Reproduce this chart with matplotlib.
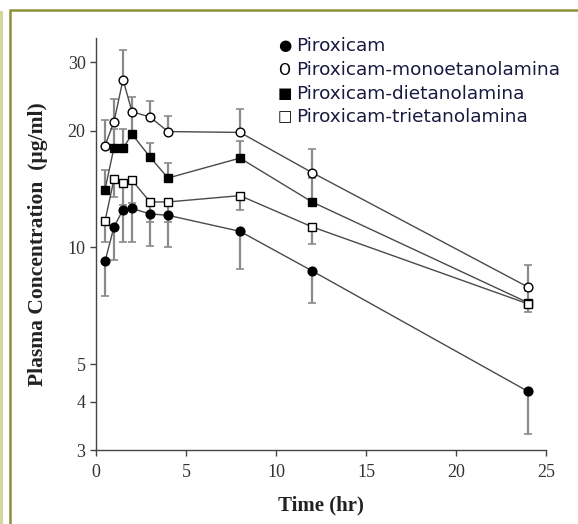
import matplotlib.pyplot as plt
from matplotlib.patches import Rectangle
from matplotlib.ticker import FixedLocator, NullLocator

# data (ug/ml); one-sided SD bars as in the original
time_hr = [0.5, 1, 1.5, 2, 3, 4, 8, 12, 24]
piroxicam = [9.2, 11.3, 12.5, 12.6, 12.2, 12.1, 11.0, 8.7, 4.25]
piroxicam_err = [1.7, 2.0, 2.2, 2.3, 2.1, 2.1, 2.2, 1.5, 0.95]
mono = [18.3, 21.1, 27.1, 22.4, 21.7, 19.9, 19.8, 15.6, 7.9]
mono_err = [3.0, 3.1, 5.2, 2.0, 2.2, 1.9, 2.9, 2.3, 1.1]
di = [14.1, 18.1, 18.0, 19.6, 17.1, 15.1, 17.0, 13.1, 7.2]
di_err = [1.7, 2.1, 2.2, 2.5, 1.5, 1.4, 1.8, 2.0, 0.5]
tri = [11.7, 15.0, 14.7, 14.9, 13.1, 13.1, 13.6, 11.3, 7.15]
tri_err = [1.4, 1.5, 1.8, 1.9, 1.5, 1.5, 1.1, 1.1, 0.35]

legend_labels = ['Piroxicam', 'Piroxicam-monoetanolamina',
                 'Piroxicam-dietanolamina', 'Piroxicam-trietanolamina']
legend_symbols = ['\u25cf', 'O', '\u25a0', '\u25a1']
y_ticks = [3, 4, 5, 10, 20, 30]
x_ticks = [0, 5, 10, 15, 20, 25]

fig = plt.figure(figsize=(5.78, 5.24), dpi=100)

# decorative frame around the slide
fig.add_artist(Rectangle((0.0, 0.0), 0.005, 0.979, transform=fig.transFigure,
                         facecolor='#d6d69c', edgecolor='none'))
fig.add_artist(Rectangle((0.018, -0.05), 1.1, 1.03, transform=fig.transFigure,
                         facecolor='none', edgecolor='#8e8e3c', linewidth=1.8))

ax = fig.add_axes([0.1661, 0.1412, 0.7785, 0.7863])

line_c = '#4a4a4a'
bar_c = '#8a8a8a'
zeros = [0] * len(time_hr)

series = [
    (piroxicam, [piroxicam_err, zeros], 'o', 'black', 6.3),
    (mono, [zeros, mono_err], 'o', 'white', 6.3),
    (di, [zeros, di_err], 's', 'black', 5.2),
    (tri, [tri_err, zeros], 's', 'white', 5.2),
]
for vals, err, mk, fc, ms in series:
    ax.errorbar(time_hr, vals, yerr=err, fmt='none', ecolor=bar_c,
                elinewidth=1.6, capsize=3, capthick=1.2, zorder=2)
    ax.plot(time_hr, vals, color=line_c, linewidth=1.0, marker=mk,
            markersize=ms, markerfacecolor=fc, markeredgecolor='black',
            markeredgewidth=1.0, zorder=3)

ax.set_yscale('log')
ax.set_xlim(0, 25)
ax.set_ylim(3, 34.7)
ax.yaxis.set_major_locator(FixedLocator(y_ticks))
ax.yaxis.set_minor_locator(NullLocator())
ax.set_yticklabels([str(v) for v in y_ticks])
ax.set_xticks(x_ticks)
for s in ['top', 'right']:
    ax.spines[s].set_visible(False)
for s in ['left', 'bottom']:
    ax.spines[s].set_color('#444444')
    ax.spines[s].set_linewidth(1.0)
ax.tick_params(direction='out', length=4, width=1.0, color='#444444',
               labelsize=13, labelcolor='#333333')
ax.tick_params(axis='x', pad=6)
for lab in ax.get_xticklabels() + ax.get_yticklabels():
    lab.set_family('Liberation Serif')

ax.set_xlabel('Time (hr)', family='Liberation Serif', fontweight='bold',
              fontsize=15, color='#222222')
ax.set_ylabel('Plasma Concentration  (\u00b5g/ml)', family='Liberation Serif',
              fontweight='bold', fontsize=15.5, color='#222222')
ax.xaxis.set_label_coords(0.5, -45 / 412)
ax.yaxis.set_label_coords(-48 / 450, 0.5)

# legend drawn as text lines, like the original slide
leg_y = [46, 70, 94, 117]
for sym, lab, py in zip(legend_symbols, legend_labels, leg_y):
    fig.text(278 / 578, 1 - py / 524, sym, family='DejaVu Sans', fontsize=11,
             color='black', va='center', ha='left')
    fig.text(296 / 578, 1 - py / 524, lab, family='DejaVu Sans', fontsize=13.3,
             color='#1a1a40', va='center', ha='left')

fig.savefig('out.png', dpi=100)
